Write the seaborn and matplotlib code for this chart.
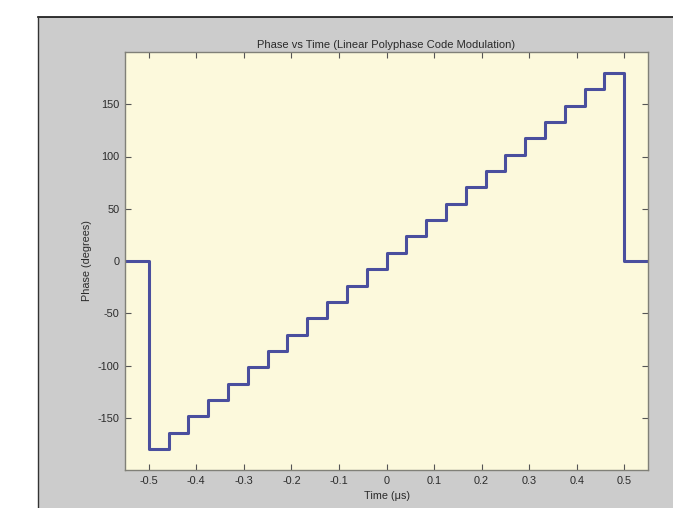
import matplotlib
matplotlib.use("Agg")
import matplotlib.pyplot as plt
from matplotlib.patches import Rectangle
from matplotlib.lines import Line2D
import pandas as pd
import seaborn as sns

# Chip start times (µs) of the 24-chip linear polyphase code
chip_start = [-0.5000, -0.4583, -0.4167, -0.3750, -0.3333, -0.2917,
              -0.2500, -0.2083, -0.1667, -0.1250, -0.0833, -0.0417,
              0.0000, 0.0417, 0.0833, 0.1250, 0.1667, 0.2083,
              0.2500, 0.2917, 0.3333, 0.3750, 0.4167, 0.4583]
# Phase of each chip (degrees)
chip_phase = [-180.0, -164.3, -148.7, -133.0, -117.4, -101.7,
              -86.1, -70.4, -54.8, -39.1, -23.5, -7.8,
              7.8, 23.5, 39.1, 54.8, 70.4, 86.1,
              101.7, 117.4, 133.0, 148.7, 164.3, 180.0]
# Zero phase outside the pulse
lead_time, pulse_end, tail_time = -0.55, 0.5, 0.55

x_ticks = [-0.5, -0.4, -0.3, -0.2, -0.1, 0, 0.1, 0.2, 0.3, 0.4, 0.5]
x_labels = ["-0.5", "-0.4", "-0.3", "-0.2", "-0.1", "0", "0.1", "0.2", "0.3", "0.4", "0.5"]
y_ticks = [-150, -100, -50, 0, 50, 100, 150]
y_labels = ["-150", "-100", "-50", "0", "50", "100", "150"]

df = pd.DataFrame({
    "time": [lead_time] + chip_start + [pulse_end, tail_time],
    "phase": [0.0] + chip_phase + [0.0, 0.0],
})

plt.rcParams["font.family"] = ["Liberation Sans", "DejaVu Sans"]

W, H = 673, 508
fig = plt.figure(figsize=(W / 100, H / 100), dpi=100)
fig.patch.set_facecolor("white")

# Grey figure panel with a dark edge on top and left
x0, ytop = 38 / W, 1 - 17 / H
fig.patches.append(Rectangle((x0, 0), 1 - x0, ytop, transform=fig.transFigure,
                             facecolor="#cccccc", edgecolor="none", zorder=-5))
fig.lines.append(Line2D([x0, 1], [ytop, ytop], transform=fig.transFigure,
                        color="#111111", lw=1.2, zorder=-4))
fig.lines.append(Line2D([x0, x0], [0, ytop], transform=fig.transFigure,
                        color="#333333", lw=1.0, zorder=-4))

ax = fig.add_axes([125 / W, 1 - 470 / H, 523 / W, 418 / H])
ax.set_facecolor("#fcf9dc")

sns.lineplot(data=df, x="time", y="phase", ax=ax, sort=False,
             drawstyle="steps-post", color="#4a4f9e", linewidth=2.2)

ax.set_xlim(-0.55, 0.55)
ax.set_ylim(-200, 200)
ax.set_xticks(x_ticks)
ax.set_xticklabels(x_labels)
ax.set_yticks(y_ticks)
ax.set_yticklabels(y_labels)

txt = "#2a2a2a"
ax.tick_params(direction="in", length=4, width=0.8, color="#555555",
               top=True, right=True, labelsize=7.8, labelcolor=txt, pad=4)
for s in ax.spines.values():
    s.set_color("#808078")
    s.set_linewidth(1.0)

ax.set_title("Phase vs Time (Linear Polyphase Code Modulation)",
             fontsize=8, color=txt, pad=3)
ax.set_xlabel("Time (μs)", fontsize=7.8, color=txt, labelpad=4)
ax.set_ylabel("Phase (degrees)", fontsize=7.8, color=txt, labelpad=4)

fig.savefig("out.png", dpi=100)
